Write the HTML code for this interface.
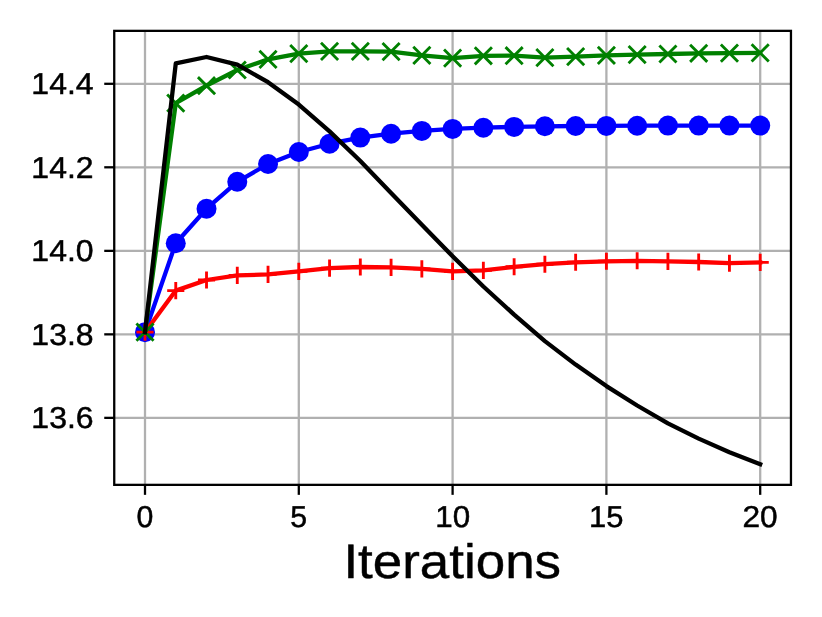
<!DOCTYPE html>
<html lang="en"><head><meta charset="utf-8"><title>Iterations plot</title>
<style>
html,body{margin:0;padding:0;background:#ffffff;}
body{width:822px;height:617px;overflow:hidden;}
svg{display:block;will-change:transform;}
text{font-family:"Liberation Sans",sans-serif;fill:#000000;text-rendering:geometricPrecision;}
.tick{font-size:30.26px;stroke:#000000;stroke-width:0.5px;}
.xlabel{font-size:48.41px;stroke:#000000;stroke-width:0.45px;}
.grid line{stroke:#b0b0b0;stroke-width:2.285;}
.ticks line{stroke:#000000;stroke-width:2.285;}
.series polyline{fill:none;stroke-width:4.284;stroke-linejoin:round;stroke-linecap:square;}
</style></head><body>
<svg width="822" height="617" viewBox="0 0 822 617" role="img" aria-label="Line chart: four series versus Iterations">
<rect x="0" y="0" width="822" height="617" fill="#ffffff"/>
<g class="grid">
<line x1="145.0" y1="30.85" x2="145.0" y2="484.85"/>
<line x1="298.8" y1="30.85" x2="298.8" y2="484.85"/>
<line x1="452.6" y1="30.85" x2="452.6" y2="484.85"/>
<line x1="606.4" y1="30.85" x2="606.4" y2="484.85"/>
<line x1="760.2" y1="30.85" x2="760.2" y2="484.85"/>
<line x1="114.24" y1="83.8" x2="790.96" y2="83.8"/>
<line x1="114.24" y1="167.3" x2="790.96" y2="167.3"/>
<line x1="114.24" y1="250.85" x2="790.96" y2="250.85"/>
<line x1="114.24" y1="334.35" x2="790.96" y2="334.35"/>
<line x1="114.24" y1="417.85" x2="790.96" y2="417.85"/>
</g>
<g class="ticks">
<line x1="145.0" y1="484.85" x2="145.0" y2="494.85"/>
<line x1="298.8" y1="484.85" x2="298.8" y2="494.85"/>
<line x1="452.6" y1="484.85" x2="452.6" y2="494.85"/>
<line x1="606.4" y1="484.85" x2="606.4" y2="494.85"/>
<line x1="760.2" y1="484.85" x2="760.2" y2="494.85"/>
<line x1="114.24" y1="83.8" x2="104.24" y2="83.8"/>
<line x1="114.24" y1="167.3" x2="104.24" y2="167.3"/>
<line x1="114.24" y1="250.85" x2="104.24" y2="250.85"/>
<line x1="114.24" y1="334.35" x2="104.24" y2="334.35"/>
<line x1="114.24" y1="417.85" x2="104.24" y2="417.85"/>
</g>
<g class="series">
<polyline points="145.00,332.15 175.76,243.20 206.52,208.70 237.28,181.80 268.04,164.00 298.80,152.00 329.56,143.70 360.32,137.60 391.08,133.70 421.84,130.90 452.60,128.90 483.36,127.70 514.12,126.90 544.88,126.30 575.64,126.00 606.40,125.90 637.16,125.70 667.92,125.60 698.68,125.60 729.44,125.60 760.20,125.60" stroke="#0000ff"/>
<g fill="#0000ff">
<circle cx="145.00" cy="332.15" r="10.00"/>
<circle cx="175.76" cy="243.20" r="10.00"/>
<circle cx="206.52" cy="208.70" r="10.00"/>
<circle cx="237.28" cy="181.80" r="10.00"/>
<circle cx="268.04" cy="164.00" r="10.00"/>
<circle cx="298.80" cy="152.00" r="10.00"/>
<circle cx="329.56" cy="143.70" r="10.00"/>
<circle cx="360.32" cy="137.60" r="10.00"/>
<circle cx="391.08" cy="133.70" r="10.00"/>
<circle cx="421.84" cy="130.90" r="10.00"/>
<circle cx="452.60" cy="128.90" r="10.00"/>
<circle cx="483.36" cy="127.70" r="10.00"/>
<circle cx="514.12" cy="126.90" r="10.00"/>
<circle cx="544.88" cy="126.30" r="10.00"/>
<circle cx="575.64" cy="126.00" r="10.00"/>
<circle cx="606.40" cy="125.90" r="10.00"/>
<circle cx="637.16" cy="125.70" r="10.00"/>
<circle cx="667.92" cy="125.60" r="10.00"/>
<circle cx="698.68" cy="125.60" r="10.00"/>
<circle cx="729.44" cy="125.60" r="10.00"/>
<circle cx="760.20" cy="125.60" r="10.00"/>
</g>
<polyline points="145.00,332.15 175.76,290.60 206.52,280.00 237.28,275.40 268.04,274.40 298.80,271.40 329.56,268.10 360.32,267.00 391.08,267.40 421.84,268.90 452.60,271.40 483.36,270.40 514.12,266.80 544.88,264.20 575.64,262.30 606.40,261.30 637.16,260.80 667.92,261.40 698.68,262.00 729.44,263.20 760.20,262.40" stroke="#ff0000"/>
<path d="M136.43 332.15H153.57M145.00 323.58V340.72M167.19 290.60H184.33M175.76 282.03V299.17M197.95 280.00H215.09M206.52 271.43V288.57M228.71 275.40H245.85M237.28 266.83V283.97M259.47 274.40H276.61M268.04 265.83V282.97M290.23 271.40H307.37M298.80 262.83V279.97M320.99 268.10H338.13M329.56 259.53V276.67M351.75 267.00H368.89M360.32 258.43V275.57M382.51 267.40H399.65M391.08 258.83V275.97M413.27 268.90H430.41M421.84 260.33V277.47M444.03 271.40H461.17M452.60 262.83V279.97M474.79 270.40H491.93M483.36 261.83V278.97M505.55 266.80H522.69M514.12 258.23V275.37M536.31 264.20H553.45M544.88 255.63V272.77M567.07 262.30H584.21M575.64 253.73V270.87M597.83 261.30H614.97M606.40 252.73V269.87M628.59 260.80H645.73M637.16 252.23V269.37M659.35 261.40H676.49M667.92 252.83V269.97M690.11 262.00H707.25M698.68 253.43V270.57M720.87 263.20H738.01M729.44 254.63V271.77M751.63 262.40H768.77M760.20 253.83V270.97" stroke="#ff0000" stroke-width="2.856" fill="none"/>
<polyline points="145.00,332.15 175.76,103.10 206.52,85.70 237.28,70.00 268.04,59.40 298.80,53.60 329.56,51.40 360.32,51.40 391.08,51.60 421.84,55.40 452.60,58.10 483.36,55.80 514.12,55.70 544.88,57.60 575.64,56.60 606.40,55.40 637.16,54.60 667.92,54.00 698.68,53.30 729.44,53.10 760.20,52.90" stroke="#008000"/>
<path d="M136.43 323.58L153.57 340.72M136.43 340.72L153.57 323.58M167.19 94.53L184.33 111.67M167.19 111.67L184.33 94.53M197.95 77.13L215.09 94.27M197.95 94.27L215.09 77.13M228.71 61.43L245.85 78.57M228.71 78.57L245.85 61.43M259.47 50.83L276.61 67.97M259.47 67.97L276.61 50.83M290.23 45.03L307.37 62.17M290.23 62.17L307.37 45.03M320.99 42.83L338.13 59.97M320.99 59.97L338.13 42.83M351.75 42.83L368.89 59.97M351.75 59.97L368.89 42.83M382.51 43.03L399.65 60.17M382.51 60.17L399.65 43.03M413.27 46.83L430.41 63.97M413.27 63.97L430.41 46.83M444.03 49.53L461.17 66.67M444.03 66.67L461.17 49.53M474.79 47.23L491.93 64.37M474.79 64.37L491.93 47.23M505.55 47.13L522.69 64.27M505.55 64.27L522.69 47.13M536.31 49.03L553.45 66.17M536.31 66.17L553.45 49.03M567.07 48.03L584.21 65.17M567.07 65.17L584.21 48.03M597.83 46.83L614.97 63.97M597.83 63.97L614.97 46.83M628.59 46.03L645.73 63.17M628.59 63.17L645.73 46.03M659.35 45.43L676.49 62.57M659.35 62.57L676.49 45.43M690.11 44.73L707.25 61.87M690.11 61.87L707.25 44.73M720.87 44.53L738.01 61.67M720.87 61.67L738.01 44.53M751.63 44.33L768.77 61.47M751.63 61.47L768.77 44.33" stroke="#008000" stroke-width="2.856" fill="none"/>
<polyline points="145.00,332.15 175.76,63.40 206.52,57.00 237.28,64.70 268.04,82.20 298.80,104.60 329.56,131.40 360.32,161.00 391.08,192.90 421.84,224.80 452.60,256.30 483.36,286.50 514.12,314.60 544.88,341.10 575.64,364.60 606.40,386.10 637.16,405.50 667.92,423.30 698.68,438.60 729.44,452.20 760.20,464.20" stroke="#000000"/>
</g>
<rect x="114.24" y="30.85" width="676.72" height="454.00" fill="none" stroke="#000000" stroke-width="2.285" stroke-linejoin="miter"/>
<g class="tick">
<text x="145.00" y="526.55" text-anchor="middle">0</text>
<text x="298.70" y="526.55" text-anchor="middle">5</text>
<text x="452.65" y="526.55" text-anchor="middle" textLength="34.9" lengthAdjust="spacingAndGlyphs">10</text>
<text x="606.20" y="526.55" text-anchor="middle" textLength="34.4" lengthAdjust="spacingAndGlyphs">15</text>
<text x="760.13" y="526.55" text-anchor="middle" textLength="35.2" lengthAdjust="spacingAndGlyphs">20</text>
<text x="93.58" y="94.35" text-anchor="end" textLength="62.2" lengthAdjust="spacingAndGlyphs">14.4</text>
<text x="93.58" y="177.85" text-anchor="end" textLength="62.2" lengthAdjust="spacingAndGlyphs">14.2</text>
<text x="93.58" y="261.40" text-anchor="end" textLength="62.2" lengthAdjust="spacingAndGlyphs">14.0</text>
<text x="93.58" y="344.90" text-anchor="end" textLength="62.2" lengthAdjust="spacingAndGlyphs">13.8</text>
<text x="93.58" y="428.40" text-anchor="end" textLength="62.2" lengthAdjust="spacingAndGlyphs">13.6</text>
</g>
<text class="xlabel" x="452.25" y="578.0" text-anchor="middle" textLength="217.65" lengthAdjust="spacingAndGlyphs">Iterations</text>
</svg>
</body></html>
